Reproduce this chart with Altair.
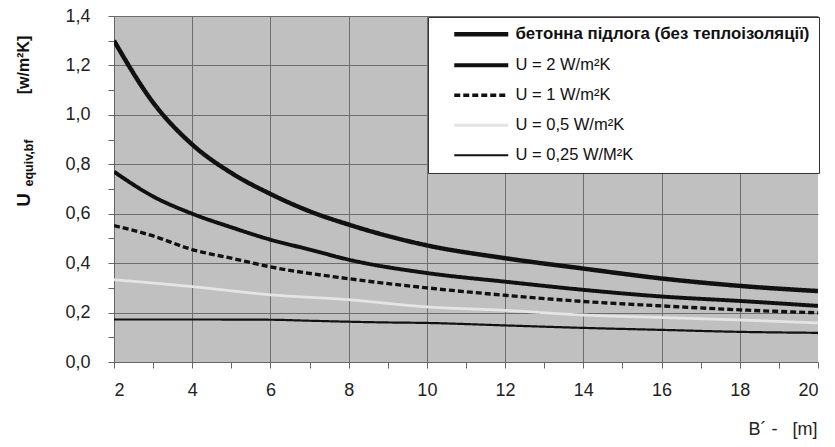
import altair as alt
import pandas as pd

series_names = [
    "бетонна підлога (без теплоізоляції)",
    "U = 2 W/m²K",
    "U = 1 W/m²K",
    "U = 0,5 W/m²K",
    "U = 0,25 W/M²K",
]

b_concrete = [2, 3, 4, 5, 6, 7, 8, 10, 12, 14, 16, 18, 20]
u_concrete = [1.30, 1.05, 0.88, 0.765, 0.68, 0.61, 0.556, 0.472, 0.42, 0.378, 0.338, 0.308, 0.287]

b_u2 = [2, 3, 4, 5, 6, 7, 8, 10, 12, 14, 16, 18, 20]
u_u2 = [0.77, 0.67, 0.60, 0.545, 0.495, 0.455, 0.414, 0.36, 0.325, 0.292, 0.265, 0.247, 0.227]

b_u1 = [2, 3, 4, 5, 6, 8, 10, 12, 14, 16, 18, 20]
u_u1 = [0.552, 0.51, 0.455, 0.42, 0.385, 0.337, 0.30, 0.27, 0.245, 0.227, 0.211, 0.199]

b_u05 = [2, 4, 6, 8, 10, 12, 14, 16, 18, 20]
u_u05 = [0.333, 0.305, 0.272, 0.252, 0.223, 0.209, 0.19, 0.18, 0.17, 0.158]

b_u025 = [2, 4, 6, 7, 8, 9, 10, 12, 14, 16, 18, 20]
u_u025 = [0.172, 0.172, 0.171, 0.167, 0.163, 0.16, 0.158, 0.148, 0.138, 0.13, 0.122, 0.118]

x_ticks = list(range(2, 21))
y_ticks = [i / 10 for i in range(15)]

rows = []
for name, bs, us in zip(series_names,
                        [b_concrete, b_u2, b_u1, b_u05, b_u025],
                        [u_concrete, u_u2, u_u1, u_u05, u_u025]):
    for b, u in zip(bs, us):
        rows.append({"series": name, "B": b, "U": u})
df = pd.DataFrame(rows)

FONT = "Liberation Sans"
NB = "\u00a0"

first = "datum.index === 0"
legend = alt.Legend(
    title=None,
    orient="none",
    legendX=314,
    legendY=1,
    fillColor="white",
    strokeColor="#333333",
    padding=9,
    rowPadding=13,
    symbolType="M-5.4,0H5.4",
    symbolSize=100,
    symbolOffset=36,
    labelOffset=26,
    labelFont=FONT,
    labelFontSize=alt.ExprRef(f"{first} ? 16.8 : 16.5"),
    labelFontWeight=alt.ExprRef(f"{first} ? 'bold' : 'normal'"),
    labelExpr=f"{first} ? '{NB}{NB}' + datum.label : datum.label",
    labelColor="#111111",
    labelLimit=0,
)

even_x = "datum.value % 2 === 0 && datum.value < 20"
even_y = "round(datum.value * 10) % 2 === 0"

lines = alt.Chart(df).mark_line(clip=True, interpolate="monotone").encode(
    x=alt.X(
        "B:Q",
        scale=alt.Scale(domain=[2, 20], nice=False),
        axis=alt.Axis(
            values=x_ticks,
            labelExpr="datum.value % 2 === 0 ? format(datum.value, 'd') : ''",
            gridOpacity={"condition": {"test": even_x, "value": 1}, "value": 0},
            title=f"B´{NB}-{NB}{NB}{NB}[m]",
            titleAnchor="end",
            titleAlign="right",
            titleX=703,
            titleFont=FONT,
            titleFontSize=18,
            titleFontWeight="normal",
            titleColor="#222222",
            titlePadding=21,
        ),
    ),
    y=alt.Y(
        "U:Q",
        scale=alt.Scale(domain=[0, 1.4], nice=False),
        axis=alt.Axis(
            values=y_ticks,
            labelExpr=f"{even_y} ? replace(format(datum.value, '.1f'), '.', ',') : ''",
            gridOpacity={"condition": {"test": even_y, "value": 1}, "value": 0},
            title=None,
        ),
    ),
    color=alt.Color(
        "series:N",
        sort=series_names,
        scale=alt.Scale(domain=series_names,
                        range=["#111111", "#111111", "#111111", "#e4e4e4", "#111111"]),
        legend=legend,
    ),
    strokeWidth=alt.StrokeWidth(
        "series:N",
        sort=series_names,
        scale=alt.Scale(domain=series_names, range=[4.5, 2.2, 2.6, 2.2, 1.6]),
        legend=legend,
    ),
    strokeDash=alt.StrokeDash(
        "series:N",
        sort=series_names,
        scale=alt.Scale(domain=series_names,
                        range=[[1, 0], [1, 0], [6, 3], [1, 0], [1, 0]]),
        legend=legend,
    ),
    order=alt.Order("B:Q"),
)

title_u = alt.Chart(pd.DataFrame({"t": ["U"]})).mark_text(
    angle=270, align="center", baseline="middle", font=FONT,
    fontSize=19, fontWeight="bold", color="#111111"
).encode(text="t:N", x=alt.value(-90), y=alt.value(184))

title_sub = alt.Chart(pd.DataFrame({"t": ["equiv,bf"]})).mark_text(
    angle=270, align="center", baseline="middle", font=FONT,
    fontSize=12.5, fontWeight="bold", color="#111111"
).encode(text="t:N", x=alt.value(-85), y=alt.value(147))

title_unit = alt.Chart(pd.DataFrame({"t": ["[w/m²K]"]})).mark_text(
    angle=270, align="center", baseline="middle", font=FONT,
    fontSize=16, fontWeight="bold", color="#111111"
).encode(text="t:N", x=alt.value(-90), y=alt.value(49))

chart = alt.layer(lines, title_u, title_sub, title_unit).properties(
    width=704,
    height=346,
    autosize=alt.AutoSizeParams(type="none"),
    padding={"left": 114, "top": 16, "right": 17, "bottom": 85},
    background="white",
).configure_view(
    fill="#c0c0c0",
    strokeWidth=0,
).configure_axis(
    labelFont=FONT,
    labelFontSize=18,
    labelColor="#222222",
    gridColor="#6e6e6e",
    gridWidth=1,
    domainColor="#666666",
    domainWidth=1,
    tickColor="#666666",
    tickSize=6,
).configure_axisY(
    labelPadding=18,
).configure_axisX(
    labelPadding=13,
)

chart.save("out.html", embed_options={"renderer": "svg", "actions": False})
